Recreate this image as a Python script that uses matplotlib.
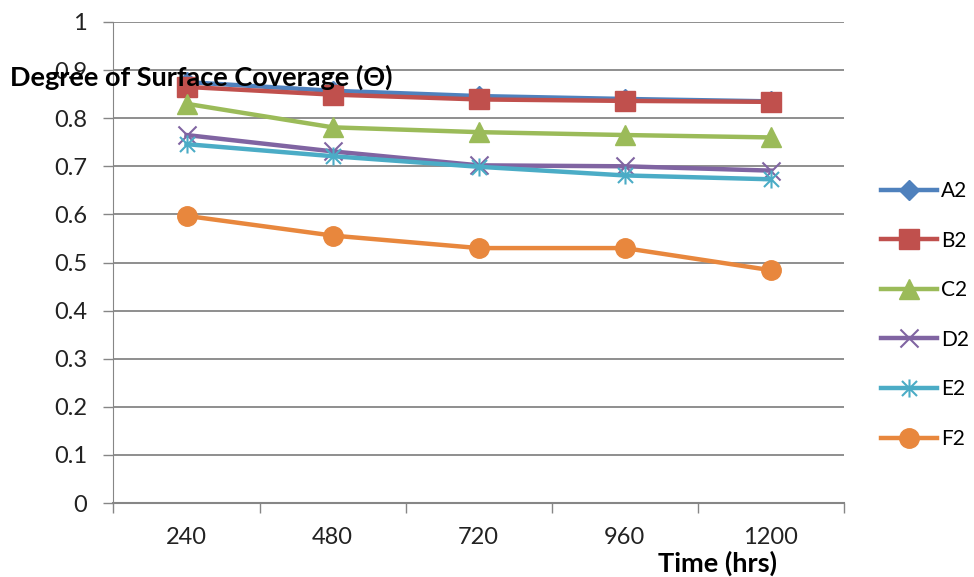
import matplotlib
matplotlib.use("Agg")
import matplotlib.pyplot as plt
from matplotlib.path import Path

plt.rcParams['font.family'] = ['Lato', 'DejaVu Sans']

times = ['240', '480', '720', '960', '1200']
series_names = ['A2', 'B2', 'C2', 'D2', 'E2', 'F2']
A2 = [0.875, 0.857, 0.846, 0.840, 0.835]
B2 = [0.865, 0.849, 0.839, 0.836, 0.834]
C2 = [0.830, 0.781, 0.771, 0.765, 0.760]
D2 = [0.765, 0.731, 0.702, 0.700, 0.691]
E2 = [0.746, 0.721, 0.699, 0.681, 0.673]
F2 = [0.597, 0.556, 0.530, 0.530, 0.484]
y_ticks = [0, 0.1, 0.2, 0.3, 0.4, 0.5, 0.6, 0.7, 0.8, 0.9, 1]

colors = ['#4F81BD', '#C0504D', '#9BBB59', '#8064A2', '#4BACC6', '#E8873D']

star = Path([(-1, -1), (1, 1), (-1, 1), (1, -1), (0, -1.2), (0, 1.2)],
            [Path.MOVETO, Path.LINETO, Path.MOVETO, Path.LINETO, Path.MOVETO, Path.LINETO])
xmark = Path([(-1, -1), (1, 1), (-1, 1), (1, -1)],
             [Path.MOVETO, Path.LINETO, Path.MOVETO, Path.LINETO])

styles = [
    dict(marker='D', markersize=10),
    dict(marker='s', markersize=14),
    dict(marker='^', markersize=15),
    dict(marker=xmark, markersize=13, markeredgewidth=1.5),
    dict(marker=star, markersize=13, markeredgewidth=1.5),
    dict(marker='o', markersize=14),
]

fig = plt.figure(figsize=(9.74, 5.77), dpi=100)
ax = fig.add_axes([0.1165, 0.1282, 0.75, 0.8337])

x = list(range(len(times)))
data = [A2, B2, C2, D2, E2, F2]
handles = []
for name, vals, c, st in zip(series_names, data, colors, styles):
    ln, = ax.plot(x, vals, color=c, linewidth=3.2, markerfacecolor=c,
                  markeredgecolor=c, label=name, zorder=3, **st)
    handles.append(ln)

ax.set_xlim(-0.5, len(times) - 0.5)
ax.set_ylim(0, 1)
ax.set_yticks(y_ticks)
ax.set_yticklabels([('%g' % v) for v in y_ticks], fontsize=17, color='#222222')
ax.set_xticks(x)
ax.set_xticklabels(times, fontsize=17, color='#222222')
ax.set_xticks([i - 0.5 for i in range(len(times) + 1)], minor=True)
ax.tick_params(axis='x', which='major', length=0, pad=17)
ax.tick_params(axis='x', which='minor', length=7, color='#868686', width=1)
ax.tick_params(axis='y', which='major', length=7, color='#868686', width=1, pad=12)
ax.grid(axis='y', color='#868686', linewidth=1.3, zorder=0)
for s in ['top', 'right']:
    ax.spines[s].set_visible(False)
ax.spines['left'].set_color('#868686')
ax.spines['bottom'].set_color('#868686')
ax.spines['bottom'].set_linewidth(1.5)

fig.text(10 / 974, 1 - 77 / 577, 'Degree of Surface Coverage (Θ)', fontsize=19.5,
         fontweight='bold', ha='left', va='center', color='black')
fig.text(718 / 974, 1 - 563 / 577, 'Time (hrs)', fontsize=19.5,
         fontweight='bold', ha='center', va='center', color='black')

leg = fig.legend(handles=handles, loc='upper left', bbox_to_anchor=(881 / 974, 1 - 181 / 577),
                 frameon=False, fontsize=15, labelspacing=1.42, handlelength=2.7,
                 handletextpad=0.2, borderaxespad=0, borderpad=0)

fig.savefig('out.png', dpi=100)
